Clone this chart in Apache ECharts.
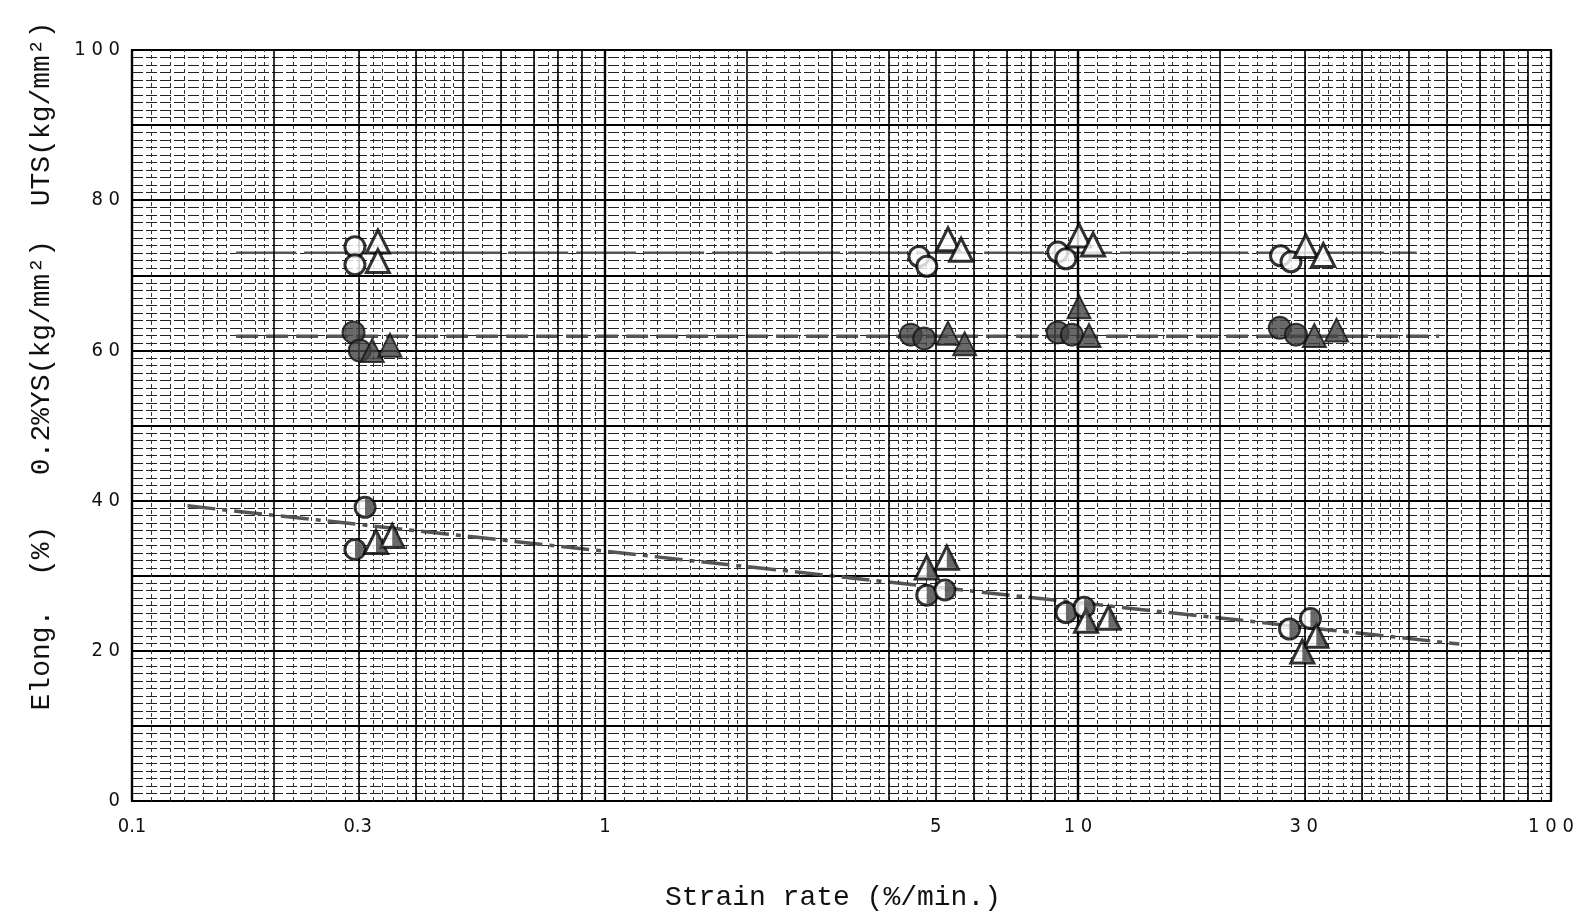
<!DOCTYPE html>
<html>
<head>
<meta charset="UTF-8">
<title>Strain rate</title>
<script src="https://cdn.jsdelivr.net/npm/echarts@6/dist/echarts.min.js"></script>
<style>
  html, body { margin: 0; padding: 0; background: #fff; }
  #main { width: 1593px; height: 923px; }
</style>
</head>
<body>
<div id="main"></div>
<script>
// strain rate (%/min) and values
const utsCircleRate = [0.296, 0.296, 4.61, 4.79, 9.06, 9.43, 26.8, 28.2];
const utsCircleVal  = [73.8, 71.4, 72.5, 71.2, 73.1, 72.2, 72.6, 71.8];
const utsTriRate    = [0.331, 0.331, 5.31, 5.66, 10.05, 10.76, 30.3, 33.0];
const utsTriVal     = [74.5, 71.9, 74.8, 73.4, 75.3, 74.1, 73.9, 72.7];

const ysCircleRate  = [0.294, 0.303, 4.43, 4.73, 9.06, 9.71, 26.7, 28.9];
const ysCircleVal   = [62.4, 60.0, 62.1, 61.6, 62.4, 62.1, 63.0, 62.1];
const ysTriRate     = [0.322, 0.351, 5.31, 5.76, 10.05, 10.55, 31.6, 35.2];
const ysTriVal      = [60.0, 60.7, 62.3, 60.9, 65.8, 62.0, 62.0, 62.7];

const elCircleRate  = [0.296, 0.311, 4.79, 5.23, 9.43, 10.3, 28.0, 31.0];
const elCircleVal   = [33.5, 39.1, 27.4, 28.1, 25.1, 25.8, 22.9, 24.3];
const elTriRate     = [0.328, 0.355, 4.79, 5.28, 10.4, 11.6, 29.8, 31.9];
const elTriVal      = [34.5, 35.3, 31.1, 32.4, 24.0, 24.4, 19.9, 22.0];

// trend lines (end points)
const utsLineRate = [0.166, 52];
const utsLineVal  = [73.0, 73.0];
const ysLineRate  = [0.166, 58];
const ysLineVal   = [61.9, 61.9];
const elLineRate  = [0.131, 64];
const elLineVal   = [39.3, 20.9];

// axis labels
const xTickValues = [0.1, 0.3, 1, 5, 10, 30, 100];
const xTickLabels = ['0.1', '0.3', '1', '5', '1 0', '3 0', '1 0 0'];
const yTickValues = [0, 20, 40, 60, 80, 100];

const lg = v => Math.log10(v);
const pairs = (xs, ys) => xs.map((x, i) => [lg(x), ys[i]]);

// log paper lines
const decades = [0.1, 1, 10];
const xMajor = [0.1, 1, 10, 100];
const xMid = [];
const xMinor = [];
decades.forEach(d => {
  for (let k = 2; k <= 9; k++) xMid.push(k * d);
  for (let k = 1.1; k < 1.95; k += 0.1) xMinor.push(k * d);
  for (let k = 2.2; k < 4.95; k += 0.2) xMinor.push(k * d);
  for (let k = 5.5; k < 9.95; k += 0.5) xMinor.push(k * d);
});

function gridLines(values, style) {
  return {
    type: 'line', data: [], silent: true,
    markLine: {
      silent: true, symbol: 'none', animation: false,
      label: { show: false },
      lineStyle: style,
      data: values.map(v => ({ xAxis: lg(v) }))
    }
  };
}

const mono = '"Liberation Mono", "DejaVu Sans Mono", monospace';
const tickFont = '"DejaVu Sans Condensed", "DejaVu Sans", sans-serif';
const R = 20;   // circle size
const T = 23;   // triangle size
const openStyle = { color: '#fff', borderColor: '#000', borderWidth: 3 };
const fillStyle = { color: '#444', borderColor: '#111', borderWidth: 2 };

const chart = echarts.init(document.getElementById('main'));
chart.setOption({
  animation: false,
  grid: { left: 132, right: 42, top: 50, bottom: 122, show: true, borderColor: '#000', borderWidth: 2 },
  xAxis: {
    type: 'value', min: -1, max: 2,
    axisLine: { show: false },
    axisTick: { show: false },
    splitLine: { show: false },
    axisLabel: {
      customValues: xTickValues.map(lg),
      margin: 16,
      color: '#111',
      fontFamily: tickFont,
      fontSize: 20,
      formatter: v => {
        let best = 0;
        xTickValues.forEach((t, i) => { if (Math.abs(lg(t) - v) < Math.abs(lg(xTickValues[best]) - v)) best = i; });
        return xTickLabels[best];
      }
    }
  },
  yAxis: {
    type: 'value', min: 0, max: 100, interval: 10,
    axisLine: { show: false },
    axisTick: { show: false },
    axisLabel: {
      margin: 12, color: '#111',
      fontFamily: tickFont,
      fontSize: 20,
      formatter: v => yTickValues.indexOf(v) >= 0 ? String(v).split('').join(' ') : ''
    },
    splitLine: { show: true, lineStyle: { color: '#000', width: 2 } },
    minorTick: { show: false, splitNumber: 10 },
    minorSplitLine: { show: true, lineStyle: { color: '#222', width: 1, type: [11, 3] } }
  },
  graphic: [
    {
      type: 'text', x: 42, y: 366, rotation: Math.PI / 2,
      style: {
        text: 'Elong.  (%)   0.2%YS(kg/mm²)  UTS(kg/mm²)',
        font: '28px ' + mono, fill: '#111',
        align: 'center', verticalAlign: 'middle'
      }
    },
    {
      type: 'text', x: 833, y: 898,
      style: {
        text: 'Strain rate (%/min.)',
        font: '28px ' + mono, fill: '#111',
        align: 'center', verticalAlign: 'middle'
      }
    }
  ],
  series: [
    gridLines(xMinor, { color: '#333', width: 1, type: [4, 3] }),
    gridLines(xMid, { color: '#000', width: 1.6, type: 'solid' }),
    gridLines(xMajor, { color: '#000', width: 2.4, type: 'solid' }),

    // trend lines
    { type: 'line', data: pairs(utsLineRate, utsLineVal), symbol: 'none', z: 3,
      lineStyle: { color: '#555', width: 2.5, type: [60, 8] } },
    { type: 'line', data: pairs(ysLineRate, ysLineVal), symbol: 'none', z: 3,
      lineStyle: { color: '#555', width: 3.5, type: [22, 8] } },
    { type: 'line', data: pairs(elLineRate, elLineVal), symbol: 'none', z: 3,
      lineStyle: { color: '#555', width: 3.5, type: [28, 7, 5, 7] } },

    // UTS: open symbols
    { type: 'scatter', data: pairs(utsCircleRate, utsCircleVal), symbol: 'circle', symbolSize: R, z: 5,
      itemStyle: openStyle },
    { type: 'scatter', data: pairs(utsTriRate, utsTriVal), symbol: 'triangle', symbolSize: T, z: 5,
      itemStyle: openStyle },

    // 0.2% YS: filled symbols
    { type: 'scatter', data: pairs(ysCircleRate, ysCircleVal), symbol: 'circle', symbolSize: R + 2, z: 5,
      itemStyle: fillStyle },
    { type: 'scatter', data: pairs(ysTriRate, ysTriVal), symbol: 'triangle', symbolSize: T, z: 5,
      itemStyle: fillStyle },

    // Elongation: half filled symbols
    { type: 'scatter', data: pairs(elCircleRate, elCircleVal), symbol: 'circle', symbolSize: R, z: 5,
      itemStyle: openStyle },
    { type: 'scatter', data: pairs(elCircleRate, elCircleVal), symbol: 'path://M0,0 A10,10 0 0,1 0,20 Z',
      symbolSize: [R / 2 - 1.5, R - 3], symbolOffset: [R / 4 - 0.75, 0], z: 6,
      itemStyle: { color: '#444' } },
    { type: 'scatter', data: pairs(elTriRate, elTriVal), symbol: 'triangle', symbolSize: T, z: 5,
      itemStyle: openStyle },
    { type: 'scatter', data: pairs(elTriRate, elTriVal), symbol: 'path://M0,0 L10,20 L0,20 Z',
      symbolSize: [T / 2 - 2, T - 4], symbolOffset: [T / 4 - 1, 0.5], z: 6,
      itemStyle: { color: '#444' } }
  ]
});
</script>
</body>
</html>
